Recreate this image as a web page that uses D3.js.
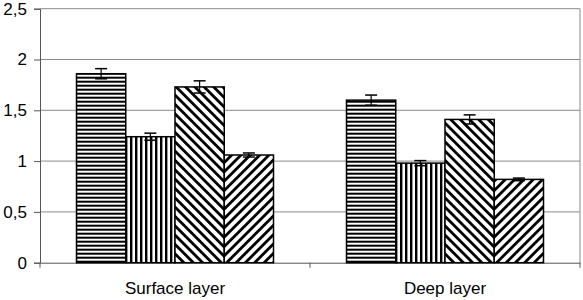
<!DOCTYPE html>
<html>
<head>
<meta charset="utf-8">
<script src="https://cdn.jsdelivr.net/npm/d3@7"></script>
<style>
  body { margin: 0; background: #fff; }
  text { font-family: "Liberation Sans", Arial, sans-serif; fill: #000; }
</style>
</head>
<body>
<div id="chart"></div>
<script>
// data
var layers = ["Surface layer", "Deep layer"];
var series = ["s1", "s2", "s3", "s4"];
var means = [
  [1.86, 1.24, 1.73, 1.06],   // Surface layer
  [1.60, 0.98, 1.41, 0.82]    // Deep layer
];
var errors = [
  [0.05, 0.035, 0.06, 0.02],
  [0.05, 0.025, 0.045, 0.013]
];
var yTicks = [0, 0.5, 1, 1.5, 2, 2.5];

var margin = { top: 8.7, right: 3, bottom: 37.3, left: 40 };
var width = 583 - margin.left - margin.right;
var height = 300 - margin.top - margin.bottom;

var svg = d3.select("#chart").append("svg")
  .attr("width", 583)
  .attr("height", 300);

// hatch patterns
var defs = svg.append("defs");
var pats = [
  { id: "p0", w: 4, rot: 90, sw: 2 },     // horizontal lines
  { id: "p1", w: 5, rot: 0, sw: 2.4 },    // vertical lines
  { id: "p2", w: 6.6, rot: -45, sw: 2.8 },// "\" lines
  { id: "p3", w: 6.6, rot: 45, sw: 2.8 }  // "/" lines
];
pats.forEach(function(p) {
  var pat = defs.append("pattern")
    .attr("id", p.id)
    .attr("patternUnits", "userSpaceOnUse")
    .attr("width", p.w)
    .attr("height", p.w)
    .attr("patternTransform", "rotate(" + p.rot + ")");
  pat.append("rect").attr("width", p.w).attr("height", p.w).attr("fill", "#fff");
  pat.append("rect").attr("width", p.sw).attr("height", p.w).attr("fill", "#000");
});

var g = svg.append("g")
  .attr("transform", "translate(" + margin.left + "," + margin.top + ")");

var x0 = d3.scaleBand().domain(layers).range([0, width]).paddingInner(0).paddingOuter(0);
var x1 = d3.scaleBand().domain(series).range([36.5, x0.bandwidth() - 36.5]).padding(0);
var y = d3.scaleLinear().domain([0, 2.5]).range([height, 0]);

// gridlines
g.selectAll(".grid")
  .data(yTicks.filter(function(d) { return d > 0; }))
  .enter().append("line")
  .attr("x1", 0).attr("x2", width)
  .attr("y1", function(d) { return y(d); })
  .attr("y2", function(d) { return y(d); })
  .attr("stroke", "#8a8a8a")
  .attr("stroke-width", 1);

// right border
g.append("line")
  .attr("x1", width).attr("x2", width)
  .attr("y1", 0).attr("y2", height)
  .attr("stroke", "#8a8a8a");

// y axis
var yAxis = d3.axisLeft(y).tickValues(yTicks).tickSize(6).tickPadding(7)
  .tickFormat(function(d) { return String(d).replace(".", ","); });
var ya = g.append("g").call(yAxis);
ya.select(".domain").attr("stroke", "#555");
ya.selectAll(".tick line").attr("stroke", "#555");
ya.selectAll("text").style("font-size", "17px");

// x axis
var xa = g.append("g")
  .attr("transform", "translate(0," + height + ")")
  .call(d3.axisBottom(x0).tickSize(0).tickPadding(19));
xa.select(".domain").attr("stroke", "#555");
xa.selectAll("text").style("font-size", "17px");
// tick marks at category boundaries
g.selectAll(".xtick")
  .data([0, 1, 2])
  .enter().append("line")
  .attr("x1", function(i) { return i * x0.bandwidth(); })
  .attr("x2", function(i) { return i * x0.bandwidth(); })
  .attr("y1", height).attr("y2", height + 5)
  .attr("stroke", "#555");

// bars
var groups = g.selectAll(".layer")
  .data(layers)
  .enter().append("g")
  .attr("transform", function(d) { return "translate(" + x0(d) + ",0)"; });

groups.selectAll("rect")
  .data(function(d, i) {
    return series.map(function(s, j) { return { s: s, j: j, v: means[i][j], e: errors[i][j] }; });
  })
  .enter().append("rect")
  .attr("x", function(d) { return x1(d.s); })
  .attr("width", x1.bandwidth())
  .attr("y", function(d) { return y(d.v); })
  .attr("height", function(d) { return height - y(d.v); })
  .attr("fill", function(d) { return "url(#p" + d.j + ")"; })
  .attr("stroke", "#000")
  .attr("stroke-width", 1.5);

// error bars
var eb = groups.selectAll(".err")
  .data(function(d, i) {
    return series.map(function(s, j) { return { s: s, v: means[i][j], e: errors[i][j] }; });
  })
  .enter().append("g");

eb.append("line")
  .attr("x1", function(d) { return x1(d.s) + x1.bandwidth() / 2; })
  .attr("x2", function(d) { return x1(d.s) + x1.bandwidth() / 2; })
  .attr("y1", function(d) { return y(d.v + d.e); })
  .attr("y2", function(d) { return y(d.v - d.e); })
  .attr("stroke", "#000").attr("stroke-width", 1.2);
eb.append("line")
  .attr("x1", function(d) { return x1(d.s) + x1.bandwidth() / 2 - 6; })
  .attr("x2", function(d) { return x1(d.s) + x1.bandwidth() / 2 + 6; })
  .attr("y1", function(d) { return y(d.v + d.e); })
  .attr("y2", function(d) { return y(d.v + d.e); })
  .attr("stroke", "#000").attr("stroke-width", 1.5);
eb.append("line")
  .attr("x1", function(d) { return x1(d.s) + x1.bandwidth() / 2 - 6; })
  .attr("x2", function(d) { return x1(d.s) + x1.bandwidth() / 2 + 6; })
  .attr("y1", function(d) { return y(d.v - d.e); })
  .attr("y2", function(d) { return y(d.v - d.e); })
  .attr("stroke", "#000").attr("stroke-width", 1.5);
</script>
</body>
</html>
